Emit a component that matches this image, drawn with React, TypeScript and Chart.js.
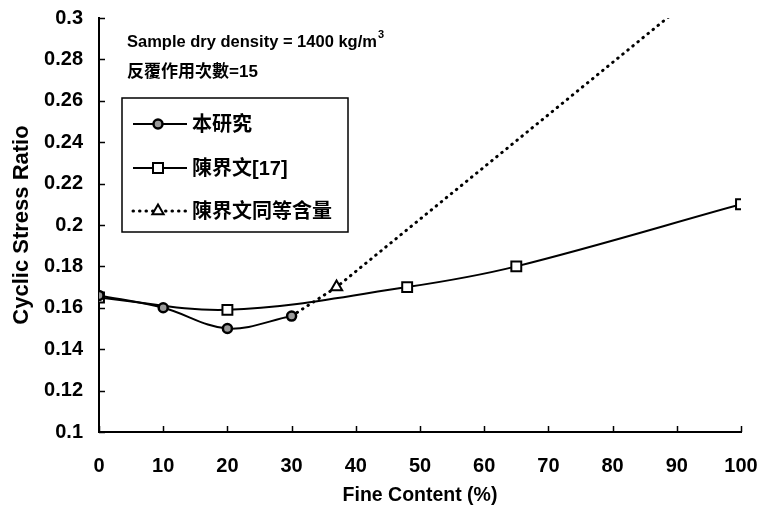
import React, { useEffect, useRef } from 'react';
import { Chart, registerables } from 'chart.js';

Chart.register(...registerables);

// ---- data ----
const fineContentThisStudy = [0, 10, 20, 30];
const csrThisStudy = [0.166, 0.16, 0.15, 0.156];

const fineContentChen = [0, 20, 48, 65, 100];
const csrChen = [0.165, 0.159, 0.17, 0.18, 0.21];

const fineContentEquiv = [30, 37, 100];
const csrEquiv = [0.156, 0.17, 0.329];
const equivMeasured = [false, true, false];

const seriesLabels = ['本研究', '陳界文[17]', '陳界文同等含量'];

const xMin = 0;
const xMax = 100;
const xStep = 10;
const yMin = 0.1;
const yMax = 0.3;
const yStep = 0.02;

const xTitle = 'Fine Content (%)';
const yTitle = 'Cyclic Stress Ratio';
const noteLine1 = 'Sample dry density = 1400 kg/m';
const noteSup = '3';
const noteLine2 = '反覆作用次數=15';

const FONT = "'Liberation Sans', Arial, 'Noto Sans CJK TC', sans-serif";
const CJK = "'Liberation Sans', 'Noto Sans CJK TC', sans-serif";

function toPoints(xs: number[], ys: number[]) {
  return xs.map((x, i) => ({ x, y: ys[i] }));
}

function drawMarker(ctx: CanvasRenderingContext2D, kind: string, cx: number, cy: number) {
  ctx.save();
  ctx.setLineDash([]);
  ctx.lineWidth = 2;
  ctx.strokeStyle = '#000';
  ctx.beginPath();
  if (kind === 'circle') {
    ctx.fillStyle = '#9a9a9a';
    ctx.lineWidth = 2.5;
    ctx.arc(cx, cy, 4.5, 0, Math.PI * 2);
  } else if (kind === 'rect') {
    ctx.fillStyle = '#fff';
    ctx.rect(cx - 5, cy - 5, 10, 10);
  } else {
    ctx.fillStyle = '#fff';
    const r = 6.5;
    ctx.moveTo(cx, cy - r);
    ctx.lineTo(cx + r * 0.866, cy + r * 0.5);
    ctx.lineTo(cx - r * 0.866, cy + r * 0.5);
    ctx.closePath();
  }
  ctx.fill();
  ctx.stroke();
  ctx.restore();
}

const decorPlugin = {
  id: 'decor',
  afterDraw(chart: any) {
    const { ctx, chartArea, scales } = chart;
    const xs = scales.x;
    const ys = scales.y;
    ctx.save();
    // inward tick marks
    ctx.strokeStyle = '#000';
    ctx.lineWidth = 1.5;
    ys.ticks.forEach((t: any) => {
      const py = Math.round(ys.getPixelForValue(t.value)) + 0.5;
      ctx.beginPath();
      ctx.moveTo(chartArea.left, py);
      ctx.lineTo(chartArea.left + 6, py);
      ctx.stroke();
    });
    xs.ticks.forEach((t: any) => {
      const px = Math.round(xs.getPixelForValue(t.value)) + 0.5;
      ctx.beginPath();
      ctx.moveTo(px, chartArea.bottom);
      ctx.lineTo(px, chartArea.bottom - 6);
      ctx.stroke();
    });

    // annotation text
    ctx.fillStyle = '#000';
    ctx.textAlign = 'left';
    ctx.textBaseline = 'alphabetic';
    const tx = chartArea.left + 28;
    ctx.font = `bold 16.5px ${FONT}`;
    ctx.fillText(noteLine1, tx, 47);
    const w = ctx.measureText(noteLine1).width;
    ctx.font = `bold 11px ${FONT}`;
    ctx.fillText(noteSup, tx + w + 1, 38);
    ctx.font = `bold 17px ${CJK}`;
    ctx.fillText(noteLine2, tx, 77);

    // legend box
    const bx = chartArea.left + 23;
    const by = 98;
    const bw = 226;
    const bh = 134;
    ctx.fillStyle = '#fff';
    ctx.fillRect(bx, by, bw, bh);
    ctx.strokeStyle = '#000';
    ctx.lineWidth = 1.5;
    ctx.strokeRect(bx, by, bw, bh);

    const rows = [124, 168, 211];
    const kinds = ['circle', 'rect', 'triangle'];
    chart.data.datasets.forEach((ds: any, i: number) => {
      const ry = rows[i];
      ctx.save();
      ctx.strokeStyle = '#000';
      ctx.lineWidth = ds.borderWidth;
      ctx.lineCap = ds.borderCapStyle || 'butt';
      ctx.setLineDash(ds.borderDash || []);
      ctx.beginPath();
      ctx.moveTo(bx + 11, ry);
      ctx.lineTo(bx + 65, ry);
      ctx.stroke();
      ctx.restore();
      drawMarker(ctx, kinds[i], bx + 36, ry);
      ctx.fillStyle = '#000';
      ctx.font = `bold 20px ${CJK}`;
      ctx.textBaseline = 'middle';
      ctx.fillText(ds.label, bx + 70, ry + 1);
    });
    ctx.restore();
  },
};

export default function App() {
  const canvasRef = useRef<HTMLCanvasElement | null>(null);

  useEffect(() => {
    if (!canvasRef.current) return;
    Chart.defaults.font.family = FONT;
    Chart.defaults.color = '#000';
    const chart = new Chart(canvasRef.current, {
      type: 'line',
      data: {
        datasets: [
          {
            label: seriesLabels[0],
            data: toPoints(fineContentThisStudy, csrThisStudy),
            borderColor: '#000',
            borderWidth: 2,
            tension: 0.35,
            pointStyle: 'circle',
            pointRadius: 4.5,
            pointBackgroundColor: '#9a9a9a',
            pointBorderColor: '#000',
            pointBorderWidth: 2.5,
            fill: false,
          },
          {
            label: seriesLabels[1],
            data: toPoints(fineContentChen, csrChen),
            borderColor: '#000',
            borderWidth: 2,
            tension: 0.35,
            pointStyle: 'rect',
            pointRadius: 7,
            pointBackgroundColor: '#fff',
            pointBorderColor: '#000',
            pointBorderWidth: 2,
            fill: false,
          },
          {
            label: seriesLabels[2],
            data: toPoints(fineContentEquiv, csrEquiv),
            borderColor: '#000',
            borderWidth: 3,
            borderDash: [0.5, 6],
            borderCapStyle: 'round',
            tension: 0,
            pointStyle: 'triangle',
            pointRadius: (c: any) => (equivMeasured[c.dataIndex] ? 6.5 : 0),
            pointBackgroundColor: '#fff',
            pointBorderColor: '#000',
            pointBorderWidth: 2,
            fill: false,
          },
        ],
      } as any,
      options: {
        animation: false,
        responsive: true,
        maintainAspectRatio: false,
        layout: { padding: { top: 18, right: 21, left: 0, bottom: 0 } },
        plugins: {
          legend: { display: false },
          tooltip: { enabled: false },
        },
        scales: {
          x: {
            type: 'linear',
            min: xMin,
            max: xMax,
            ticks: { stepSize: xStep, font: { size: 20, weight: 'bold' }, padding: 0, color: '#000' },
            grid: { display: true, drawOnChartArea: false, drawTicks: true, tickLength: 22, color: 'rgba(0,0,0,0)' },
            border: { display: true, color: '#000', width: 2 },
            title: { display: true, text: xTitle, font: { size: 19.5, weight: 'bold' }, color: '#000', padding: { top: 0, bottom: 4 } },
            afterFit: (s: any) => { s.height = 79; },
          },
          y: {
            type: 'linear',
            min: yMin,
            max: yMax,
            ticks: {
              stepSize: yStep,
              font: { size: 20, weight: 'bold' },
              padding: 0,
              color: '#000',
              callback: (v: any) => String(parseFloat(Number(v).toFixed(2))),
            },
            grid: { display: true, drawOnChartArea: false, drawTicks: true, tickLength: 16, color: 'rgba(0,0,0,0)' },
            border: { display: true, color: '#000', width: 2 },
            title: { display: true, text: yTitle, font: { size: 22, weight: 'bold' }, color: '#000', padding: { top: 9, bottom: 0 } },
            afterFit: (s: any) => { s.width = 99; },
          },
        },
      } as any,
      plugins: [decorPlugin],
    });
    return () => chart.destroy();
  }, []);

  return (
    <div style={{ position: 'absolute', left: 0, top: 0, width: 762, height: 511, background: '#fff' }}>
      <canvas ref={canvasRef} style={{ display: 'block' }} />
    </div>
  );
}
